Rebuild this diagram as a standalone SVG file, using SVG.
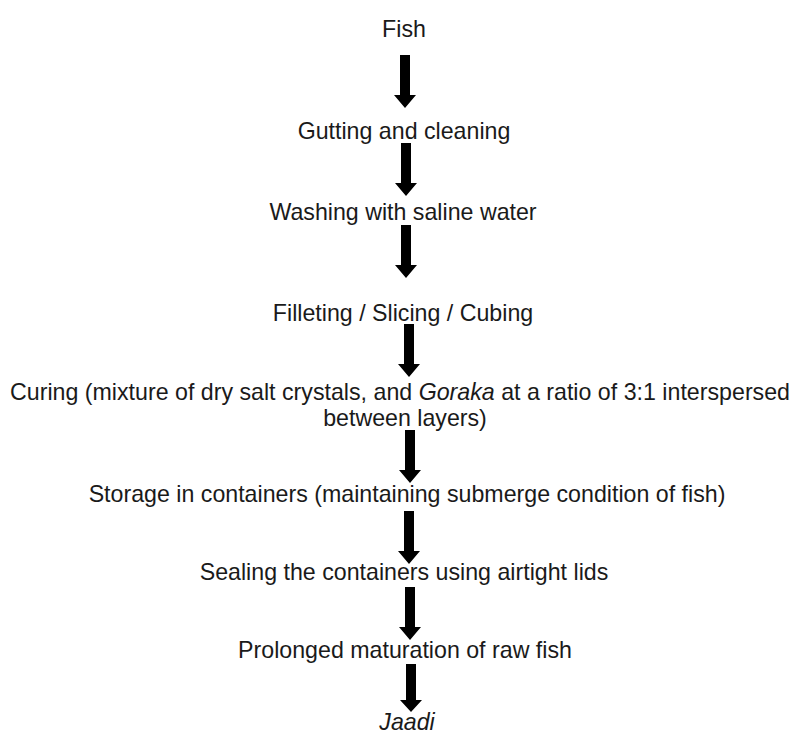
<svg xmlns="http://www.w3.org/2000/svg" width="796" height="734" viewBox="0 0 796 734">
<style>
text{font-family:"Liberation Sans",Arial,sans-serif;font-size:23.2px;fill:#1a1a1a;text-anchor:middle}
.i{font-style:italic}
.arr{fill:#000}
</style>
<defs>
<path id="a" d="M-5,0 H5 V40 H11 L0,53 L-11,40 H-5 Z"/>
</defs>
<rect width="796" height="734" fill="#fff"/>
<g id="n1"><text x="404" y="37">Fish</text></g>
<g id="n2"><text x="404" y="139">Gutting and cleaning</text></g>
<g id="n3"><text x="403" y="220">Washing with saline water</text></g>
<g id="n4"><text x="403" y="321">Filleting / Slicing / Cubing</text></g>
<g id="n5"><text x="400" y="400" textLength="780" lengthAdjust="spacing">Curing (mixture of dry salt crystals, and <tspan class="i">Goraka</tspan> at a ratio of 3:1 interspersed</text><text x="405" y="426">between layers)</text></g>
<g id="n6"><text x="407" y="502">Storage in containers (maintaining submerge condition of fish)</text></g>
<g id="n7"><text x="404" y="580">Sealing the containers using airtight lids</text></g>
<g id="n8"><text x="405" y="658">Prolonged maturation of raw fish</text></g>
<g id="n9"><text x="407" y="730" class="i">Jaadi</text></g>
<g id="connectors" class="arr">
<use href="#a" x="405" y="55"/>
<use href="#a" x="406" y="143"/>
<use href="#a" x="406" y="225"/>
<use href="#a" x="409" y="324"/>
<use href="#a" x="410" y="430"/>
<use href="#a" x="409" y="511"/>
<use href="#a" x="410" y="587"/>
<path d="M406,664 H416 V700 H422 L411,712 L400,700 H406 Z"/>
</g>
</svg>
